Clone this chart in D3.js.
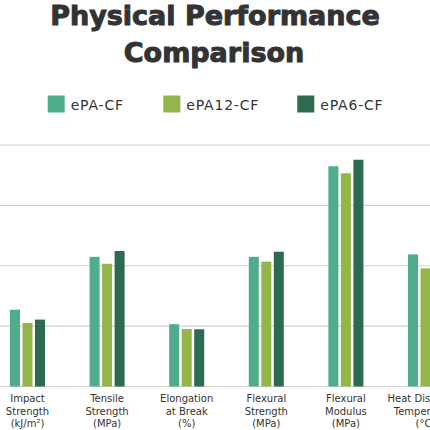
<!DOCTYPE html>
<html>
<head>
<meta charset="utf-8">
<script src="https://cdn.jsdelivr.net/npm/d3@7"></script>
<style>
  html, body { margin: 0; padding: 0; background: #fff; }
</style>
</head>
<body>
<div id="chart"></div>
<script>
// categories (label lines) and series
const categories = ["Impact", "Tensile", "Elongation", "FlexStr", "FlexMod", "HDT"];
const categoryLabels = [
    ["Impact", "Strength", "(kJ/m²)"],
    ["Tensile", "Strength", "(MPa)"],
    ["Elongation", "at Break", "(%)"],
    ["Flexural", "Strength", "(MPa)"],
    ["Flexural", "Modulus", "(MPa)"],
    ["Heat Distortion", "Temperature", "(°C)"]
];
const seriesNames = ["ePA-CF", "ePA12-CF", "ePA6-CF"];
const seriesColors = ["#4fad8a", "#93b54a", "#2e6a4f"];

// relative values (gridlines every 25)
const ePA_CF   = [31.8, 53.7, 25.8, 53.7, 91.2, 54.7];
const ePA12_CF = [26.3, 50.8, 23.8, 51.7, 88.3, 48.9];
const ePA6_CF  = [27.7, 56.1, 23.7, 55.8, 93.9, 57.0];
const gridTicks = [0, 25, 50, 75, 100];

const seriesValues = [ePA_CF, ePA12_CF, ePA6_CF];

const width = 430, height = 430;
const font = "'DejaVu Sans', sans-serif";

const svg = d3.select("#chart")
    .append("svg")
    .attr("width", width)
    .attr("height", height)
    .style("background-color", "#fff");

const x = d3.scaleBand()
    .domain(categories)
    .range([-12.3, 465.3])
    .paddingInner(0.56)
    .paddingOuter(0.28);

const xSub = d3.scaleBand()
    .domain(seriesNames)
    .range([0, x.bandwidth()])
    .paddingInner(0.2);

const y = d3.scaleLinear()
    .domain([0, 100])
    .range([386.5, 145]);

// gridlines
svg.append("g")
    .selectAll("line")
    .data(gridTicks)
    .join("line")
        .attr("x1", 0)
        .attr("x2", width)
        .attr("y1", d => y(d))
        .attr("y2", d => y(d))
        .attr("stroke", "#d2d2d2")
        .attr("stroke-width", 1.2);

// bars
const rows = [];
categories.forEach((c, i) => {
    seriesNames.forEach((s, j) => {
        rows.push({cat: c, series: s, value: seriesValues[j][i], color: seriesColors[j]});
    });
});

svg.append("g")
    .selectAll("rect")
    .data(rows)
    .join("rect")
        .attr("x", d => x(d.cat) + xSub(d.series))
        .attr("y", d => y(d.value))
        .attr("width", xSub.bandwidth())
        .attr("height", d => y(0) - y(d.value))
        .attr("fill", d => d.color);

// category labels
const labels = svg.append("g")
    .selectAll("text")
    .data(categories)
    .join("text")
        .attr("x", d => x(d) + x.bandwidth() / 2)
        .attr("y", 402)
        .attr("text-anchor", "middle")
        .style("font", `10px ${font}`)
        .style("fill", "#333");

labels.selectAll("tspan")
    .data((d, i) => categoryLabels[i])
    .join("tspan")
        .attr("x", function() { return d3.select(this.parentNode).attr("x"); })
        .attr("dy", (d, i) => i === 0 ? 0 : 12.5)
        .text(d => d);

// title
const title = svg.append("g")
    .style("font", `bold 27px ${font}`)
    .style("fill", "#333")
    .style("stroke", "#333")
    .style("stroke-width", 1)
    .attr("text-anchor", "middle");

title.append("text")
    .attr("x", 215)
    .attr("y", 25)
    .text("Physical Performance");

title.append("text")
    .attr("x", 214)
    .attr("y", 62)
    .text("Comparison");

// legend
const legendX = [47.7, 163.3, 297.3];
const legend = svg.append("g")
    .selectAll("g")
    .data(seriesNames)
    .join("g")
        .attr("transform", (d, i) => `translate(${legendX[i]}, 95.5)`);

legend.append("rect")
    .attr("width", 17)
    .attr("height", 17)
    .attr("fill", (d, i) => seriesColors[i]);

legend.append("text")
    .attr("x", 23)
    .attr("y", 14)
    .style("font", `14px ${font}`)
    .style("letter-spacing", "0.8px")
    .style("fill", "#333")
    .text(d => d);
</script>
</body>
</html>
